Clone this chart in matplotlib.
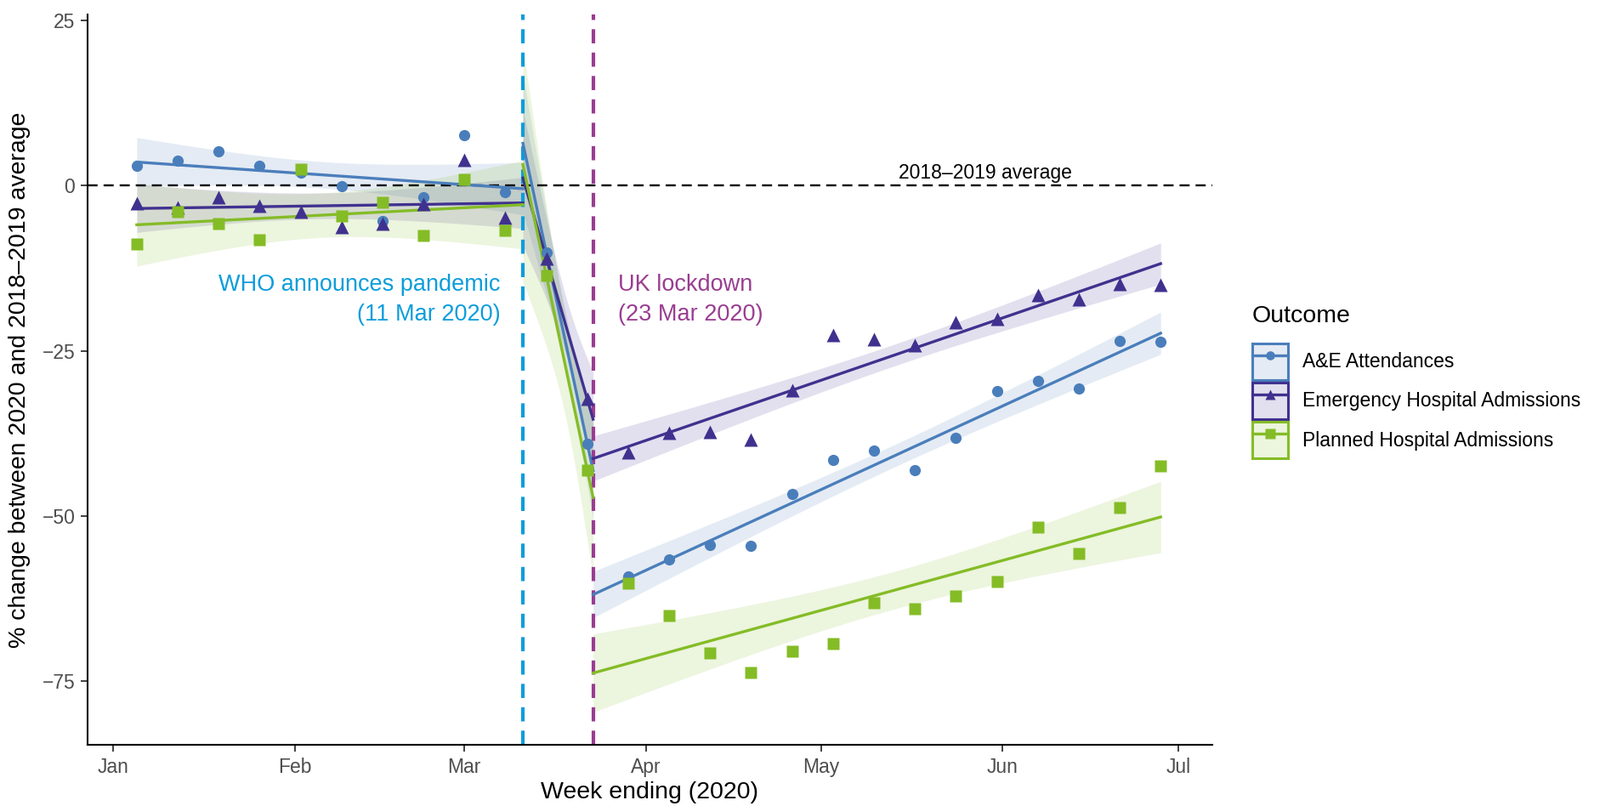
import numpy as np
import pandas as pd
import matplotlib
matplotlib.use("Agg")
import matplotlib.pyplot as plt
import matplotlib.dates as mdates
from matplotlib.lines import Line2D
from matplotlib.patches import Patch
from matplotlib.legend_handler import HandlerTuple

plt.rcParams['font.family'] = ['Liberation Sans', 'DejaVu Sans']

# weekly values, % change vs 2018-2019 average
week_ending = pd.date_range('2020-01-05', '2020-06-28', freq='7D')

ae_attendances = [3.0, 3.8, 5.2, 3.0, 2.0, -0.1, -5.4, -1.7, 7.7, -1.0,
                  -10.1, -39.0,
                  -59.1, -56.6, -54.4, -54.5, -46.6, -41.5, -40.1, -43.0,
                  -38.1, -31.1, -29.5, -30.7, -23.5, -23.6]
emergency_adm = [-2.7, -3.3, -1.7, -3.0, -4.0, -6.3, -5.7, -2.8, 3.9, -4.9,
                 -11.0, -32.3,
                 -40.4, -37.4, -37.2, -38.4, -30.9, -22.6, -23.2, -24.2,
                 -20.7, -20.2, -16.6, -17.2, -14.9, -15.0]
planned_adm = [-8.8, -3.9, -5.8, -8.2, 2.5, -4.6, -2.5, -7.5, 0.9, -6.8,
               -13.6, -43.0,
               -60.2, -65.1, -70.7, -73.7, -70.5, -69.3, -63.1, -64.0,
               -62.1, -59.9, -51.7, -55.6, -48.7, -42.4]

outcomes = ['A&E Attendances', 'Emergency Hospital Admissions', 'Planned Hospital Admissions']
series = [ae_attendances, emergency_adm, planned_adm]
colors = ['#4a7ebb', '#40318f', '#84bc26']
markers = ['o', '^', 's']
msizes = [9.5, 11, 10]

who_date = pd.Timestamp('2020-03-11')
lockdown_date = pd.Timestamp('2020-03-23')

x = mdates.date2num(week_ending)
t = x - x[0]
x_who = mdates.date2num(who_date)
x_lock = mdates.date2num(lockdown_date)
seg = np.where(x < x_who, 0, np.where(x < x_lock, 1, 2))
bounds = [(x[0], x_who), (x_who, x_lock), (x_lock, x[-1])]
T_CRIT = 2.086  # t(0.975, df=20): 26 weeks - 6 params


def segmented_fit(y):
    y = np.asarray(y, float)
    X = np.zeros((len(t), 6))
    for k in range(3):
        m = seg == k
        X[m, 2 * k] = 1
        X[m, 2 * k + 1] = t[m]
    beta = np.linalg.lstsq(X, y, rcond=None)[0]
    resid = y - X @ beta
    s2 = resid @ resid / (len(y) - X.shape[1])
    cov = s2 * np.linalg.inv(X.T @ X)
    out = []
    for k, (a, b) in enumerate(bounds):
        xg = np.linspace(a, b, 80)
        X0 = np.zeros((len(xg), 6))
        X0[:, 2 * k] = 1
        X0[:, 2 * k + 1] = xg - x[0]
        fit = X0 @ beta
        se = np.sqrt(np.einsum('ij,jk,ik->i', X0, cov, X0))
        out.append((xg, fit, fit - T_CRIT * se, fit + T_CRIT * se))
    return out


fig = plt.figure(figsize=(18.82, 9.48), dpi=100)
ax = fig.add_axes([0.0547, 0.076, 0.7030, 0.906])

handles = []
for name, y, c, mk, ms in zip(outcomes, series, colors, markers, msizes):
    for xg, fit, lo, hi in segmented_fit(y):
        ax.fill_between(xg, lo, hi, color=c, alpha=0.15, lw=0, zorder=1)
        ax.plot(xg, fit, color=c, lw=2.4, zorder=3)
    ax.plot(x, y, ls='none', marker=mk, ms=ms, color=c, mec='none', zorder=4)
    handles.append((Patch(facecolor=c, alpha=0.15, edgecolor='none'),
                    Patch(facecolor='none', edgecolor=c, lw=2.2),
                    Line2D([], [], color=c, lw=2.4, marker=mk, ms=ms * 0.8, mec='none')))

ax.axhline(0, color='black', lw=1.7, dashes=(5, 3), zorder=2)
ax.axvline(x_who, color='#0d9ddb', lw=3, dashes=(4, 2.6), zorder=2)
ax.axvline(x_lock, color='#993d91', lw=3, dashes=(4, 2.6), zorder=2)

ax.text(x_who - 3.9, -17.2, 'WHO announces pandemic\n(11 Mar 2020)', color='#0d9ddb',
        fontsize=19.5, ha='right', va='center', multialignment='right', linespacing=1.45)
ax.text(x_lock + 4.2, -17.2, 'UK lockdown\n(23 Mar 2020)', color='#993d91',
        fontsize=19.5, ha='left', va='center', multialignment='left', linespacing=1.45)
ax.text(mdates.date2num(pd.Timestamp('2020-05-29')), 1.9, '2018\u20132019 average',
        fontsize=16.5, ha='center', va='center')

ax.set_xlim(mdates.date2num(pd.Timestamp('2019-12-27 14:00')),
            mdates.date2num(pd.Timestamp('2020-07-06 20:00')))
ax.set_ylim(-84.6, 25.9)
ax.set_yticks([25, 0, -25, -50, -75])
ax.set_yticklabels(['25', '0', '\u221225', '\u221250', '\u221275'])
ax.xaxis.set_major_locator(mdates.MonthLocator())
ax.xaxis.set_major_formatter(mdates.DateFormatter('%b'))
ax.tick_params(labelsize=16.5, labelcolor='#4d4d4d', color='#333333',
               length=5.5, width=1.3, pad=5)
for side in ['top', 'right']:
    ax.spines[side].set_visible(False)
for side in ['left', 'bottom']:
    ax.spines[side].set_linewidth(1.5)

ax.set_xlabel('Week ending (2020)', fontsize=20.5, labelpad=4)
ax.set_ylabel('% change between 2020 and 2018\u20132019 average', fontsize=20.5, labelpad=10)

leg = fig.legend(handles, outcomes, handler_map={tuple: HandlerTuple(ndivide=1, pad=0)},
                 loc='upper left', bbox_to_anchor=(0.7765, 0.6335), frameon=False,
                 title='Outcome', title_fontsize=20.5, fontsize=16.5,
                 handlelength=1.85, handleheight=2.5, labelspacing=0.15,
                 handletextpad=0.75, borderpad=0)
leg._legend_box.align = 'left'
leg._legend_box.sep = 13.5  # extra gap between title and keys

fig.savefig('out.png', dpi=100)
